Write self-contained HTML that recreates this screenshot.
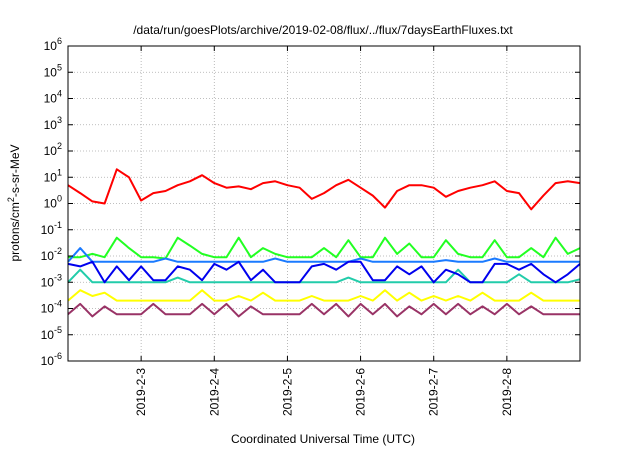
<!DOCTYPE html>
<html><head><meta charset="utf-8"><style>
body{margin:0;background:#fff;}
svg text{font-family:"Liberation Sans",sans-serif;fill:#000;}
</style></head><body>
<svg id="chart" width="640" height="448" xmlns="http://www.w3.org/2000/svg">
<text x="323" y="34" font-size="12" text-anchor="middle">/data/run/goesPlots/archive/2019-02-08/flux/../flux/7daysEarthFluxes.txt</text>
<text x="323" y="443" font-size="12" text-anchor="middle">Coordinated Universal Time (UTC)</text>
<text transform="translate(19,203) rotate(-90)" font-size="12" text-anchor="middle">protons/cm<tspan dy="-5" font-size="9">2</tspan><tspan dy="5">-s-sr-MeV</tspan></text>
<g id="grid"></g><g id="series"></g><g id="axes"></g>
</svg>
<script>
const xTickLabels=["2019-2-3","2019-2-4","2019-2-5","2019-2-6","2019-2-7","2019-2-8"];
const yExps=[-6,-5,-4,-3,-2,-1,0,1,2,3,4,5,6];
const seriesNames=["red","green","lightblue","darkblue","teal","yellow","purple"];
const seriesColors=["#ff0000","#22ff22","#1a7aff","#0000ee","#22ccaa","#ffff00","#993366"];
const red=[5,2.5,1.2,1.0,20,10,1.3,2.5,3,5,7,12,6,4,4.5,3.5,6,7,5,4,1.5,2.5,5,8,4,2,0.7,3,5,5,4,1.8,3,4,5,7,3,2.5,0.6,2,6,7,6];
const green=[.009,.009,.012,.009,.05,.02,.009,.009,.008,.05,.025,.012,.009,.009,.05,.009,.02,.012,.009,.009,.009,.02,.009,.04,.009,.009,.05,.012,.03,.009,.009,.04,.012,.009,.009,.04,.009,.009,.02,.009,.05,.012,.02];
const lightblue=[.006,.02,.006,.006,.006,.006,.006,.006,.008,.006,.006,.006,.006,.006,.006,.006,.006,.008,.006,.006,.006,.006,.006,.006,.008,.006,.006,.006,.006,.006,.006,.007,.006,.006,.006,.008,.006,.006,.006,.006,.006,.006,.006];
const darkblue=[.005,.004,.006,.001,.004,.0012,.004,.0012,.0012,.004,.003,.0012,.005,.003,.006,.0012,.003,.001,.001,.001,.004,.005,.003,.006,.006,.0012,.0012,.004,.002,.004,.001,.003,.002,.001,.001,.005,.005,.003,.005,.002,.001,.002,.005];
const teal=[.001,.003,.001,.001,.001,.001,.001,.001,.001,.0015,.001,.001,.001,.001,.001,.001,.001,.001,.001,.001,.001,.001,.001,.0015,.001,.001,.001,.001,.001,.001,.001,.001,.003,.001,.001,.001,.001,.002,.001,.001,.001,.001,.0013];
const yellow=[.0002,.0005,.0003,.0004,.0002,.0002,.0002,.0002,.0002,.0002,.0002,.0005,.0002,.0002,.0003,.0002,.0004,.0002,.0002,.0002,.0003,.0002,.0002,.0002,.0003,.0002,.0005,.0002,.0004,.0002,.0003,.0002,.0003,.0002,.0004,.0002,.0002,.0002,.0004,.0002,.0002,.0002,.0002];
const purple=[.00006,.00015,.00005,.00012,.00006,.00006,.00006,.00015,.00006,.00006,.00006,.00015,.00006,.00015,.00005,.00012,.00006,.00006,.00006,.00006,.00015,.00006,.00015,.00005,.00015,.00006,.00015,.00005,.00012,.00006,.00015,.00006,.00015,.00006,.00012,.00006,.00015,.00006,.00012,.00006,.00006,.00006,.00006];
const stepDays=1/6;
const L=68,R=580,T=46,B=361,NS="http://www.w3.org/2000/svg";
const xDay=d=>L+d*(R-L)/7;
const yLog=v=>B-(Math.log10(v)+6)*(B-T)/12;
function mk(tag,attrs,parent){const e=document.createElementNS(NS,tag);for(const k in attrs)e.setAttribute(k,attrs[k]);parent.appendChild(e);return e;}
const grid=document.getElementById('grid'),axes=document.getElementById('axes'),ser=document.getElementById('series');
yExps.forEach(e=>{
  const y=yLog(Math.pow(10,e));
  if(e>-6&&e<6){const g=mk('line',{x1:L,x2:R,y1:y,y2:y,stroke:'#aaa','stroke-dasharray':'1,2','stroke-width':0.8},grid);
  
  }
  const t=mk('text',{x:L-6,y:y+4,'font-size':12,'text-anchor':'end'},axes);
  
  
  t.innerHTML='10<tspan dy="-6" font-size="9">'+e+'</tspan>';
  mk('line',{x1:L,x2:L+5,y1:y,y2:y,stroke:'#000'},axes);
  mk('line',{x1:R,x2:R-5,y1:y,y2:y,stroke:'#000'},axes);
});
xTickLabels.forEach((lab,i)=>{
  const x=xDay(i+1);
  const g=mk('line',{x1:x,x2:x,y1:T,y2:B,stroke:'#aaa','stroke-dasharray':'1,2','stroke-width':0.8},grid);
  
  
  mk('line',{x1:x,x2:x,y1:B,y2:B-5,stroke:'#000'},axes);
  mk('line',{x1:x,x2:x,y1:T,y2:T+5,stroke:'#000'},axes);
  const t=mk('text',{transform:`translate(${x+4},${368}) rotate(-90)`,'font-size':12,'text-anchor':'end'},axes);
  
  
  t.textContent=lab;
});
const fr=mk('rect',{x:L,y:T,width:R-L,height:B-T,fill:'none',stroke:'#000','stroke-width':1},axes);


const all=[red,green,lightblue,darkblue,teal,yellow,purple];
const order=[6,5,4,1,2,3,0];
order.forEach(si=>{
  const vals=all[si];
  const pts=vals.map((v,i)=>xDay(i*stepDays).toFixed(1)+','+yLog(v).toFixed(1)).join(' ');
  const p=mk('polyline',{points:pts,fill:'none',stroke:seriesColors[si],'stroke-width':2,'stroke-linejoin':'round'},ser);
  
  
});
</script>
</body></html>
